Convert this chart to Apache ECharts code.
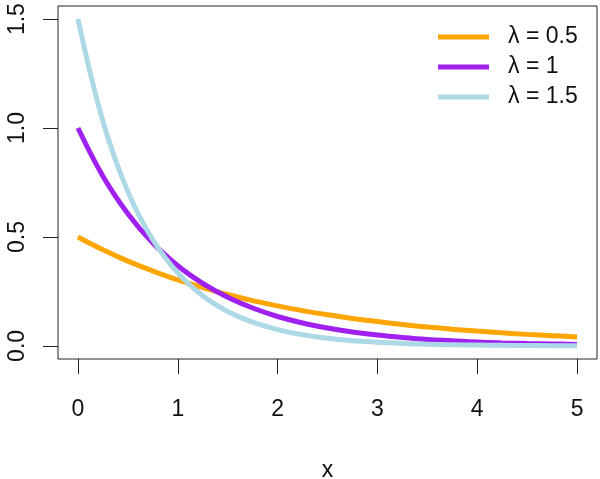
<!DOCTYPE html>
<html>
<head>
<meta charset="utf-8">
<script src="https://cdn.jsdelivr.net/npm/echarts@6/dist/echarts.min.js"></script>
<style>
  html, body { margin: 0; padding: 0; background: #fff; }
  #chart { width: 600px; height: 479px; }
</style>
</head>
<body>
<div id="chart"></div>
<script>
const xs = [0, 0.25, 0.5, 0.75, 1, 1.25, 1.5, 1.75, 2, 2.25, 2.5, 2.75, 3, 3.25, 3.5, 3.75, 4, 4.25, 4.5, 4.75, 5];

// density values
const lambdaHalf = [0.5, 0.441, 0.389, 0.344, 0.303, 0.268, 0.236, 0.208, 0.184, 0.162, 0.143, 0.126, 0.112, 0.098, 0.087, 0.077, 0.068, 0.06, 0.053, 0.047, 0.041];
const lambdaOne = [1.0, 0.779, 0.607, 0.472, 0.368, 0.287, 0.223, 0.174, 0.135, 0.105, 0.082, 0.064, 0.05, 0.039, 0.03, 0.024, 0.018, 0.014, 0.011, 0.009, 0.007];
const lambdaOneHalf = [1.5, 1.031, 0.708, 0.487, 0.335, 0.23, 0.158, 0.109, 0.075, 0.051, 0.035, 0.024, 0.017, 0.011, 0.008, 0.005, 0.004, 0.003, 0.002, 0.001, 0.001];

const seriesNames = ['λ = 0.5', 'λ = 1', 'λ = 1.5'];
const seriesColors = ['#FFA500', '#A020F0', '#ADD8E6'];

const xTicks = [0, 1, 2, 3, 4, 5];
const yTicks = [0, 0.5, 1, 1.5];

const font = 'Liberation Sans, Arial, Helvetica, sans-serif';

const toPairs = (vals) => xs.map((x, i) => [x, vals[i]]);

const chart = echarts.init(document.getElementById('chart'));
chart.setOption({
  animation: false,
  textStyle: { fontFamily: font },
  grid: {
    left: 58,
    right: 3,
    top: 6,
    bottom: 120,
    outerBoundsMode: 'none',
    containLabel: false,
    show: true,
    borderColor: '#222',
    borderWidth: 1,
    backgroundColor: 'transparent',
  },
  legend: {
    orient: 'vertical',
    left: 438,
    top: 22,
    padding: 0,
    itemGap: 0,
    itemWidth: 51,
    itemHeight: 5,
    icon: 'rect',
    data: seriesNames,
    textStyle: {
      fontFamily: font,
      fontSize: 23,
      lineHeight: 30,
      color: '#111',
      padding: [0, 0, 0, 14],
    },
  },
  xAxis: {
    type: 'value',
    min: -0.2,
    max: 5.2,
    name: 'x',
    nameLocation: 'middle',
    nameGap: 100,
    nameTextStyle: { fontFamily: font, fontSize: 23, color: '#111' },
    splitLine: { show: false },
    axisLine: { show: false, onZero: false },
    axisTick: {
      show: true,
      length: 15,
      customValues: xTicks,
      lineStyle: { color: '#222', width: 1 },
    },
    axisLabel: {
      customValues: xTicks,
      margin: 39,
      fontSize: 23,
      color: '#111',
      fontFamily: font,
    },
  },
  yAxis: {
    type: 'value',
    min: -0.06,
    max: 1.56,
    splitLine: { show: false },
    axisLine: { show: false, onZero: false },
    axisTick: {
      show: true,
      length: 15,
      customValues: yTicks,
      lineStyle: { color: '#222', width: 1 },
    },
    axisLabel: {
      customValues: yTicks,
      rotate: 90,
      margin: 29,
      fontSize: 23,
      color: '#111',
      fontFamily: font,
      formatter: (v) => v.toFixed(1),
    },
  },
  series: [lambdaHalf, lambdaOne, lambdaOneHalf].map((vals, i) => ({
    name: seriesNames[i],
    type: 'line',
    data: toPairs(vals),
    smooth: 0.4,
    symbol: 'none',
    showSymbol: false,
    clip: true,
    color: seriesColors[i],
    lineStyle: { width: 5, color: seriesColors[i] },
    z: 2 + i,
  })),
});
</script>
</body>
</html>
